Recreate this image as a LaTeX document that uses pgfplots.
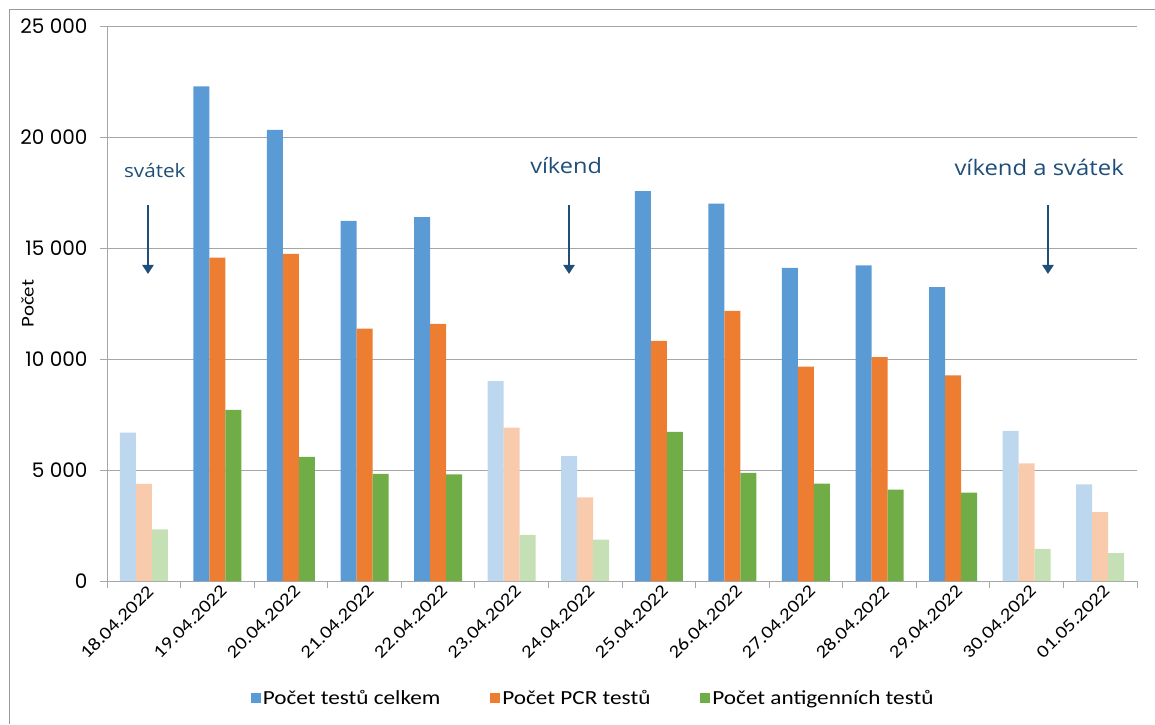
\documentclass[border=0pt]{standalone}
\usepackage{pgfplots}
\pgfplotsset{compat=1.18}
\usetikzlibrary{arrows.meta}
\usepackage{fontspec}
\setmainfont{Carlito}
\newfontfamily\legfont[FakeStretch=1.16]{Carlito}
\newfontfamily\annfont[FakeStretch=1.12]{Open Sans}
\newfontfamily\numfont{Poppins}
\definecolor{cBlue}{HTML}{5B9BD5}
\definecolor{cOrange}{HTML}{ED7D31}
\definecolor{cGreen}{HTML}{70AD47}
\definecolor{lBlue}{HTML}{BDD7EE}
\definecolor{lOrange}{HTML}{F8CBAD}
\definecolor{lGreen}{HTML}{C5E0B4}
\definecolor{annblue}{HTML}{1F4E79}
\definecolor{gridgray}{HTML}{A6A6A6}
\begin{document}
\begin{tikzpicture}[x=1pt,y=1pt]
\useasboundingbox (0,0) rectangle (1155,724);
\draw[gray!80, line width=0.8pt] (9.5,0) -- (9.5,714.5) -- (1155,714.5);
\begin{axis}[
  at={(107pt,143pt)}, anchor=south west,
  width=1030pt, height=555pt, scale only axis,
  xmin=-0.5, xmax=13.5, ymin=0, ymax=25000,
  scaled y ticks=false,
  ybar, bar width=16pt,
  axis lines=left,
  axis line style={draw=gridgray, line width=0.8pt, -},
  ymajorgrids, grid style={draw=gridgray, line width=0.8pt},
  tick align=outside, major tick length=7pt,
  tick style={draw=gridgray, line width=0.8pt},
  ytick={0,5000,10000,15000,20000,25000},
  yticklabels={0,5 000,10 000,15 000,20 000,25 000},
  yticklabel style={font=\numfont\fontsize{20}{20}\selectfont, text=black, xshift=-9pt},
  xtick={-0.5,0.5,...,13.5}, xticklabels={},
  extra x ticks={0,1,...,13},
  extra x tick labels={18.04.2022,19.04.2022,20.04.2022,21.04.2022,22.04.2022,23.04.2022,24.04.2022,25.04.2022,26.04.2022,27.04.2022,28.04.2022,29.04.2022,30.04.2022,01.05.2022},
  extra x tick style={major tick length=0pt, grid=none},
  xticklabel style={rotate=45, anchor=north east, font=\legfont\fontsize{18}{18}\selectfont, text=black, xshift=3pt},
  ylabel={Počet},
  ylabel style={at={(axis description cs:-0.077,0.5)}, anchor=center, font=\legfont\fontsize{18}{18}\selectfont},
  legend columns=3,
  legend style={at={(0.472,-0.211)}, anchor=center, draw=none, fill=none,
    font=\legfont\fontsize{20}{20}\selectfont,
    /tikz/every even column/.append style={column sep=48pt}},
  legend image code/.code={\fill[#1] (-4pt,-5pt) rectangle (6pt,5pt);},
  legend cell align=left,
]
\addplot[fill=cBlue, draw=none, bar shift=-16pt] coordinates {(1,22280) (2,20317) (3,16219) (4,16391) (7,17562) (8,16994) (9,14101) (10,14222) (11,13240)};
\addlegendentry{Počet testů celkem}
\addplot[fill=cOrange, draw=none, bar shift=0pt] coordinates {(1,14566) (2,14738) (3,11364) (4,11587) (7,10813) (8,12173) (9,9659) (10,10089) (11,9263)};
\addlegendentry{Počet PCR testů}
\addplot[fill=cGreen, draw=none, bar shift=16pt] coordinates {(1,7713) (2,5596) (3,4821) (4,4804) (7,6715) (8,4873) (9,4390) (10,4115) (11,3977)};
\addlegendentry{Počet antigenních testů}
\addplot[fill=lBlue, draw=none, bar shift=-16pt, forget plot] coordinates {(0,6680) (5,9005) (6,5630) (12,6766) (13,4356)};
\addplot[fill=lOrange, draw=none, bar shift=0pt, forget plot] coordinates {(0,4373) (5,6904) (6,3771) (12,5303) (13,3099)};
\addplot[fill=lGreen, draw=none, bar shift=16pt, forget plot] coordinates {(0,2324) (5,2083) (6,1860) (12,1446) (13,1257)};
\node[font=\annfont\fontsize{18.5}{18.5}\selectfont, text=annblue, anchor=base] at (axis cs:0.15,18198) {svátek};
\node[font=\annfont\fontsize{21}{21}\selectfont, text=annblue, anchor=base] at (axis cs:5.74,18378) {víkend};
\node[font=\annfont\fontsize{21.3}{21.3}\selectfont, text=annblue, anchor=base] at (axis cs:12.17,18266) {víkend a svátek};
\draw[annblue, line width=2.6pt, -{Triangle[width=11pt,length=9pt]}] (axis cs:0.057,16937) -- (axis cs:0.057,13829);
\draw[annblue, line width=2.6pt, -{Triangle[width=11pt,length=9pt]}] (axis cs:5.78,16937) -- (axis cs:5.78,13829);
\draw[annblue, line width=2.6pt, -{Triangle[width=11pt,length=9pt]}] (axis cs:12.29,16937) -- (axis cs:12.29,13829);
\end{axis}
\end{tikzpicture}
\end{document}
